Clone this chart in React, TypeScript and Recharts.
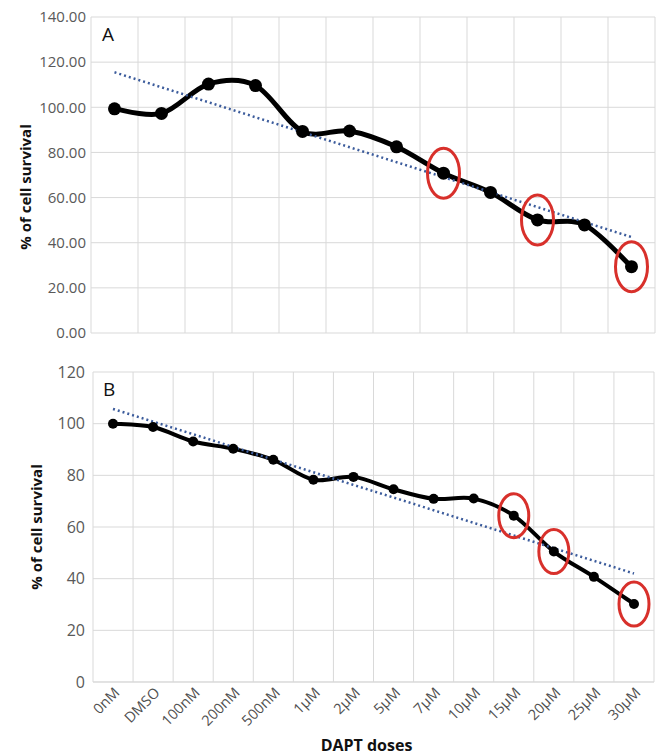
import React from "react";
import { LineChart, Line, XAxis, YAxis, CartesianGrid } from "recharts";

// Panel A (12 doses, axis labels not shown in the figure)
const dosesA = ["0nM", "DMSO", "100nM", "200nM", "500nM", "1µM", "2µM", "5µM", "10µM", "15µM", "20µM", "30µM"];
const survivalA = [99.3, 97.3, 110.3, 109.6, 89.3, 89.5, 82.5, 70.8, 62.3, 50.1, 47.9, 29.4];
const trendA = [115.5, 42.5]; // trendline at first / last dose
const circledA = [7, 9, 11];
const ticksA = [0, 20, 40, 60, 80, 100, 120, 140];

// Panel B (14 doses)
const dosesB = ["0nM", "DMSO", "100nM", "200nM", "500nM", "1µM", "2µM", "5µM", "7µM", "10µM", "15µM", "20µM", "25µM", "30µM"];
const survivalB = [100, 98.7, 93.1, 90.3, 86, 78.3, 79.4, 74.6, 70.9, 71, 64.4, 50.5, 40.7, 30.2];
const trendB = [105.7, 42];
const circledB = [10, 11, 13];
const ticksB = [0, 20, 40, 60, 80, 100, 120];

const FONT = "'Open Sans', 'Liberation Sans', sans-serif";
const GRID = "#d9d9d9";
const TICK = "#595959";

function buildRows(doses: string[], values: number[], trend: number[]) {
  return doses.map((dose, i) => ({
    dose,
    survival: values[i],
    trend: i === 0 ? trend[0] : i === doses.length - 1 ? trend[1] : null,
  }));
}

const rowsA = buildRows(dosesA, survivalA, trendA);
const rowsB = buildRows(dosesB, survivalB, trendB);

// Excel-like smoothed line (cardinal spline through every point)
const excelSmooth = (context: any) => {
  let pts: number[][] = [];
  return {
    areaStart() {},
    areaEnd() {},
    lineStart() {
      pts = [];
    },
    point(x: number, y: number) {
      pts.push([+x, +y]);
    },
    lineEnd() {
      if (!pts.length) return;
      context.moveTo(pts[0][0], pts[0][1]);
      const t = 1 / 6;
      for (let i = 0; i < pts.length - 1; i++) {
        const p0 = pts[i - 1] || pts[i];
        const p1 = pts[i];
        const p2 = pts[i + 1];
        const p3 = pts[i + 2] || p2;
        context.bezierCurveTo(
          p1[0] + (p2[0] - p0[0]) * t,
          p1[1] + (p2[1] - p0[1]) * t,
          p2[0] - (p3[0] - p1[0]) * t,
          p2[1] - (p3[1] - p1[1]) * t,
          p2[0],
          p2[1]
        );
      }
    },
  };
};

// grid lines between categories, like Excel
const bandEdges = (count: number) => ({ offset }: any) =>
  Array.from({ length: count + 1 }, (_, i) => offset.left + (i * offset.width) / count);

const makeDot = (circled: number[], r: number, rx: number, ry: number) => (props: any) => {
  const { cx, cy, index } = props;
  if (cx == null || cy == null) return <g key={`d-${index}`} />;
  return (
    <g key={`d-${index}`}>
      <circle cx={cx} cy={cy} r={r} fill="#000" />
      {circled.includes(index) && (
        <ellipse cx={cx} cy={cy} rx={rx} ry={ry} fill="none" stroke="#d8302b" strokeWidth={3} />
      )}
    </g>
  );
};

const DoseTick = ({ x, y, payload }: any) => (
  <g transform={`translate(${x + 4},${y})`}>
    <text
      x={0}
      y={0}
      dy="0.35em"
      textAnchor="end"
      transform="rotate(-45)"
      fill="#505050"
      fontSize={14.5}
      fontFamily={FONT}
    >
      {payload.value}
    </text>
  </g>
);

// rotated axis title, centred on the plot with an optional shift
const yTitle = (left: number, shift: number) => (props: any) => {
  const { viewBox } = props;
  const x = viewBox.x + left;
  const y = viewBox.y + viewBox.height / 2 + shift;
  return (
    <text
      x={x}
      y={y}
      dy="0.35em"
      textAnchor="middle"
      transform={`rotate(-90, ${x}, ${y})`}
      fontWeight={700}
      fontSize={15}
      fill="#111"
      fontFamily={FONT}
    >
      % of cell survival
    </text>
  );
};

const panelLetter: React.CSSProperties = {
  position: "absolute",
  fontFamily: FONT,
  fontSize: 19,
  color: "#111",
  lineHeight: 1,
};

export default function App() {
  return (
    <div style={{ position: "absolute", left: 0, top: 0, width: 656, height: 755, background: "#fff" }}>
      <div style={{ position: "absolute", left: 0, top: 0 }}>
        <LineChart width={656} height={346} data={rowsA} margin={{ top: 17, right: 1, left: 0, bottom: 13 }}>
          <CartesianGrid stroke={GRID} verticalCoordinatesGenerator={bandEdges(dosesA.length)} />
          <XAxis dataKey="dose" hide padding={{ left: 23.5, right: 23.5 }} />
          <YAxis
            width={91}
            domain={[0, 140]}
            ticks={ticksA}
            interval={0}
            tickFormatter={(v: number) => v.toFixed(2)}
            axisLine={false}
            tickLine={false}
            tickSize={0}
            tickMargin={5}
            tick={{ fill: TICK, fontSize: 15, fontFamily: FONT }}
            label={{ content: yTitle(26, 12) }}
          />
          <Line
            dataKey="survival"
            type={excelSmooth as any}
            stroke="#000"
            strokeWidth={5}
            dot={makeDot(circledA, 6.5, 16, 25)}
            activeDot={false}
            isAnimationActive={false}
          />
          <Line
            dataKey="trend"
            type="linear"
            connectNulls
            stroke="#3c5c9c"
            strokeWidth={2.5}
            strokeDasharray="2 3"
            dot={false}
            activeDot={false}
            isAnimationActive={false}
          />
        </LineChart>
      </div>
      <div style={{ ...panelLetter, left: 102, top: 25 }}>A</div>

      <div style={{ position: "absolute", left: 0, top: 340 }}>
        <LineChart width={656} height={415} data={rowsB} margin={{ top: 32, right: 2, left: 0, bottom: 0 }}>
          <CartesianGrid stroke={GRID} verticalCoordinatesGenerator={bandEdges(dosesB.length)} />
          <XAxis
            dataKey="dose"
            height={73}
            interval={0}
            padding={{ left: 20, right: 20 }}
            axisLine={{ stroke: GRID }}
            tickLine={false}
            tickSize={0}
            tickMargin={8}
            tick={<DoseTick />}
            label={{
              value: "DAPT doses",
              position: "insideBottom",
              offset: 4,
              dx: -7,
              style: { fontWeight: 700, fontSize: 16, fill: "#111", fontFamily: FONT },
            }}
          />
          <YAxis
            width={93}
            domain={[0, 120]}
            ticks={ticksB}
            interval={0}
            axisLine={false}
            tickLine={false}
            tickSize={0}
            tickMargin={8}
            tick={{ fill: TICK, fontSize: 16, fontFamily: FONT }}
            label={{ content: yTitle(37, 0) }}
          />
          <Line
            dataKey="survival"
            type={excelSmooth as any}
            stroke="#000"
            strokeWidth={4}
            dot={makeDot(circledB, 5, 15, 22)}
            activeDot={false}
            isAnimationActive={false}
          />
          <Line
            dataKey="trend"
            type="linear"
            connectNulls
            stroke="#3c5c9c"
            strokeWidth={2.5}
            strokeDasharray="2 3"
            dot={false}
            activeDot={false}
            isAnimationActive={false}
          />
        </LineChart>
      </div>
      <div style={{ ...panelLetter, left: 103, top: 380 }}>B</div>
    </div>
  );
}
